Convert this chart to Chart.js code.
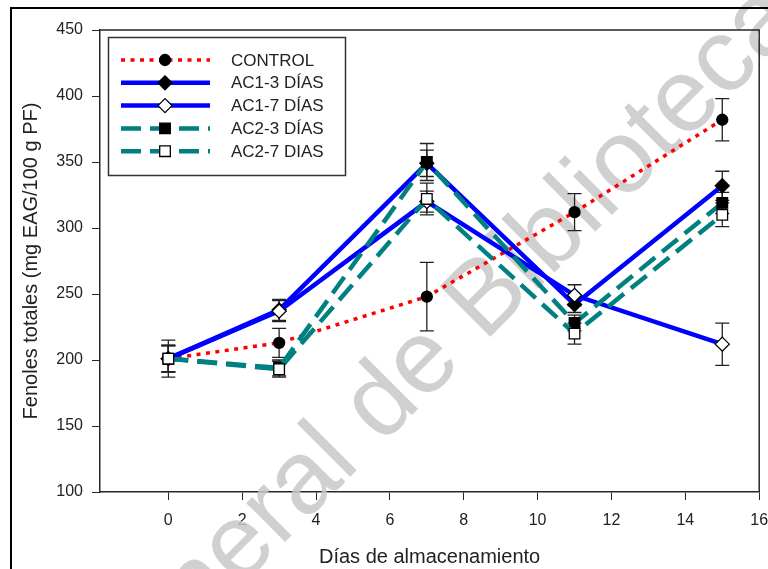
<!DOCTYPE html>
<html>
<head>
<meta charset="utf-8">
<script src="https://cdn.jsdelivr.net/npm/chart.js@4.4.0/dist/chart.umd.min.js"></script>
<style>
  html, body { margin: 0; padding: 0; background: #fff; overflow: hidden; }
</style>
</head>
<body>
<canvas id="fenoles" width="768" height="569"></canvas>
<script>
// DATA
const days = [0, 3, 7, 11, 15];
const xTicks = [0, 2, 4, 6, 8, 10, 12, 14, 16];
const seriesLabels = ['CONTROL', 'AC1-3 DÍAS', 'AC1-7 DÍAS', 'AC2-3 DÍAS', 'AC2-7 DIAS'];

const control = [201, 213, 248, 312, 382];
const ac13 = [201, 238, 349, 242, 332];
const ac17 = [201, 237, 320, 249, 212];
const ac23 = [201, 194, 350, 228, 319];
const ac27 = [201, 193, 322, 220, 310];

const controlErr = [14, 11, 26, 14, 16];
const ac13Err = [10, 8, 10, 6, 11];
const ac17Err = [10, 8, 8, 8, 16];
const ac23Err = [10, 6, 14, 6, 8];
const ac27Err = [10, 6, 12, 8, 9];

const watermark = 'General de Bibliotecas';
// DATA

const FONT = '"Liberation Sans", Arial, sans-serif';
const AXIS = '#262626';

function points(values) {
    return days.map((d, i) => ({ x: d, y: values[i] }));
}

function series(i, values, errors, color, dash, width, style, radius, fill) {
    return {
        label: seriesLabels[i],
        data: points(values),
        errors: errors,
        borderColor: color,
        borderDash: dash,
        borderWidth: width,
        pointStyle: style,
        pointRadius: radius,
        pointBackgroundColor: fill,
        pointBorderColor: '#000',
        pointBorderWidth: 1.3,
        tension: 0,
        order: 5 - i
    };
}

// ERROR BARS, FRAME, LEGEND, WATERMARK
const extras = {
    id: 'extras',
    beforeDatasetsDraw(chart) {
        const ctx = chart.ctx;
        const xs = chart.scales.x, ys = chart.scales.y;

        ctx.save();
        ctx.translate(100, 727);
        ctx.rotate(-45 * Math.PI / 180);
        ctx.font = '104px ' + FONT;
        ctx.fillStyle = 'rgba(200,200,200,0.85)';
        ctx.fillText(watermark, 0, 0);
        ctx.restore();

        ctx.save();
        ctx.strokeStyle = '#222';
        ctx.lineWidth = 1.3;
        chart.data.datasets.forEach(ds => {
            ds.data.forEach((p, j) => {
                const x = xs.getPixelForValue(p.x);
                const top = ys.getPixelForValue(p.y + ds.errors[j]);
                const bot = ys.getPixelForValue(p.y - ds.errors[j]);
                ctx.beginPath();
                ctx.moveTo(x, top); ctx.lineTo(x, bot);
                ctx.moveTo(x - 7, top); ctx.lineTo(x + 7, top);
                ctx.moveTo(x - 7, bot); ctx.lineTo(x + 7, bot);
                ctx.stroke();
            });
        });
        ctx.restore();
    },
    afterDraw(chart) {
        const ctx = chart.ctx;
        const a = chart.chartArea;

        ctx.save();
        ctx.strokeStyle = AXIS;
        ctx.lineWidth = 1.5;
        ctx.beginPath();
        ctx.moveTo(a.left, a.top); ctx.lineTo(a.right, a.top); ctx.lineTo(a.right, a.bottom);
        ctx.stroke();

        // outer picture frame
        ctx.strokeStyle = '#000';
        ctx.lineWidth = 2;
        ctx.beginPath();
        ctx.moveTo(11, 569); ctx.lineTo(11, 8); ctx.lineTo(768, 8);
        ctx.stroke();

        // legend box
        ctx.fillStyle = '#fff';
        ctx.fillRect(108, 37, 237, 138);
        ctx.strokeStyle = '#333';
        ctx.lineWidth = 1.5;
        ctx.strokeRect(108.5, 37.5, 237, 138);

        chart.data.datasets.forEach((ds, i) => {
            const y = 60 + i * 22.8;
            ctx.save();
            ctx.strokeStyle = ds.borderColor;
            ctx.lineWidth = ds.borderWidth;
            ctx.setLineDash(ds.borderDash);
            ctx.beginPath();
            ctx.moveTo(121, y); ctx.lineTo(210, y);
            ctx.stroke();
            ctx.restore();

            ctx.fillStyle = ds.pointBackgroundColor;
            ctx.strokeStyle = '#000';
            ctx.lineWidth = ds.pointBorderWidth;
            Chart.helpers.drawPoint(ctx, {
                pointStyle: ds.pointStyle, radius: ds.pointRadius, rotation: 0, borderWidth: ds.pointBorderWidth
            }, 165, y);

            ctx.fillStyle = '#222';
            ctx.font = '17px ' + FONT;
            ctx.textBaseline = 'middle';
            ctx.fillText(ds.label, 231, y + 1);
        });
        ctx.restore();
    }
};

const ctx = document.getElementById('fenoles').getContext('2d');
new Chart(ctx, {
    type: 'line',
    data: {
        datasets: [
            series(0, control, controlErr, '#ff0000', [4, 5.5], 3.5, 'circle', 5.5, '#000'),
            series(1, ac13, ac13Err, '#0000ff', [], 4.5, 'rectRot', 7, '#000'),
            series(2, ac17, ac17Err, '#0000ff', [], 4.5, 'rectRot', 7, '#fff'),
            series(3, ac23, ac23Err, '#008080', [20, 9], 4.5, 'rect', 7.5, '#000'),
            series(4, ac27, ac27Err, '#008080', [20, 9], 4.5, 'rect', 7.5, '#fff')
        ]
    },
    options: {
        responsive: false,
        animation: false,
        layout: { padding: { left: 0, top: 30, right: 6, bottom: 0 } },
        plugins: { legend: { display: false }, tooltip: { enabled: false } },
        scales: {
            x: {
                type: 'linear',
                min: -1.85,
                max: 16,
                afterBuildTicks: s => { s.ticks = xTicks.map(v => ({ value: v })); },
                afterFit: s => { s.height = 77; s.paddingLeft = 0; s.paddingRight = 0; },
                grid: { drawOnChartArea: false, color: AXIS, tickLength: 8 },
                border: { color: AXIS, width: 1.5 },
                ticks: { color: '#222', font: { family: FONT, size: 16 }, padding: 11, maxRotation: 0, autoSkip: false },
                title: {
                    display: true, text: 'Días de almacenamiento', color: '#222',
                    font: { family: FONT, size: 20 }, padding: { top: 0, bottom: 0 }
                }
            },
            y: {
                min: 100,
                max: 450,
                afterFit: s => { s.width = 100; s.paddingTop = 0; s.paddingBottom = 0; },
                grid: { drawOnChartArea: false, color: AXIS, tickLength: 8 },
                border: { color: AXIS, width: 1.5 },
                ticks: { stepSize: 50, color: '#222', font: { family: FONT, size: 16 }, padding: 9 },
                title: {
                    display: true, text: 'Fenoles totales (mg EAG/100 g PF)', color: '#222',
                    font: { family: FONT, size: 20 }, padding: { top: 19, bottom: 0 }
                }
            }
        }
    },
    plugins: [extras]
});
</script>
</body>
</html>
